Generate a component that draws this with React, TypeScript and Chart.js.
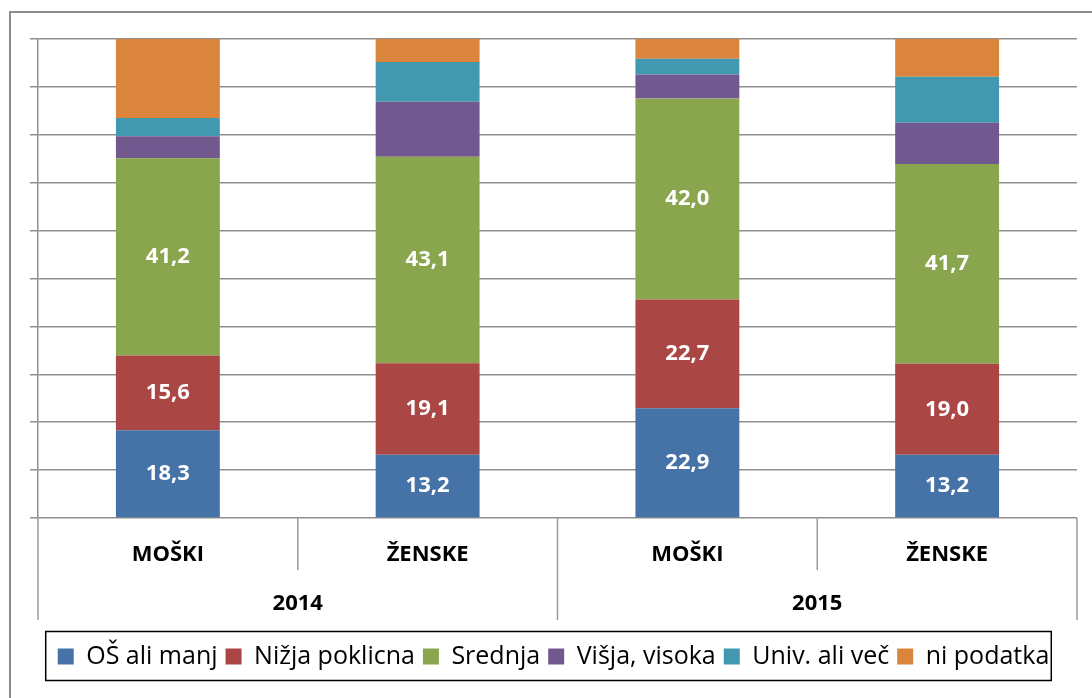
import { useEffect, useRef } from "react";
import { Chart, registerables } from "chart.js";

Chart.register(...registerables);

const categories = ["MOŠKI", "ŽENSKE", "MOŠKI", "ŽENSKE"];
const groups = ["2014", "2015"];
const seriesNames = ["OŠ ali manj", "Nižja poklicna", "Srednja", "Višja, visoka", "Univ. ali več", "ni podatka"];
const osAliManj = [18.3, 13.2, 22.9, 13.2];
const nizjaPoklicna = [15.6, 19.1, 22.7, 19.0];
const srednja = [41.2, 43.1, 42.0, 41.7];
const visjaVisoka = [4.6, 11.5, 5.0, 8.6];
const univAliVec = [3.8, 8.3, 3.3, 9.6];
const niPodatka = [16.5, 4.8, 4.1, 7.9];
const labelledSeries = [0, 1, 2];

const seriesValues = [osAliManj, nizjaPoklicna, srednja, visjaVisoka, univAliVec, niPodatka];
const seriesColors = ["#4572A7", "#AA4643", "#89A54E", "#71588F", "#4198AF", "#DB843D"];

const FONT = "'Open Sans', 'Noto Sans', sans-serif";

const decorPlugin = {
  id: "decor",
  beforeDraw(chart: any) {
    const ctx = chart.ctx;
    ctx.save();
    ctx.fillStyle = "#ffffff";
    ctx.fillRect(0, 0, chart.width, chart.height);
    ctx.strokeStyle = "#8c8c8c";
    ctx.lineWidth = 2;
    ctx.strokeRect(10, 12, chart.width + 20, chart.height + 20);
    ctx.restore();
  },
  afterDraw(chart: any) {
    const ctx = chart.ctx;
    const area = chart.chartArea;
    const xs = chart.scales.x;
    const n = categories.length;
    const perGroup = n / groups.length;
    const step = (area.right - area.left) / n;
    ctx.save();
    ctx.strokeStyle = "#9a9a9a";
    ctx.lineWidth = 1.5;
    for (let i = 0; i <= n; i++) {
      const bx = i < n ? xs.getPixelForValue(i) - step / 2 : xs.getPixelForValue(n - 1) + step / 2;
      const isGroup = i % perGroup === 0;
      ctx.beginPath();
      ctx.moveTo(bx, area.bottom);
      ctx.lineTo(bx, area.bottom + (isGroup ? 102 : 52));
      ctx.stroke();
    }
    ctx.fillStyle = "#000000";
    ctx.font = `bold 22px ${FONT}`;
    ctx.textAlign = "center";
    ctx.textBaseline = "middle";
    groups.forEach((g, gi) => {
      const l = xs.getPixelForValue(gi * perGroup) - step / 2;
      const r = xs.getPixelForValue((gi + 1) * perGroup - 1) + step / 2;
      ctx.fillText(g, (l + r) / 2, area.bottom + 86);
    });
    // legend border
    const hb = chart.legend && chart.legend.legendHitBoxes;
    if (hb && hb.length) {
      const first = hb[0];
      const last = hb[hb.length - 1];
      const cy = first.top + first.height / 2;
      ctx.strokeStyle = "#000000";
      ctx.lineWidth = 1.5;
      ctx.strokeRect(first.left - 12, cy - 25, last.left + last.width + 2 - (first.left - 12), 49);
    }
    ctx.restore();
  },
};

const valueLabelPlugin = {
  id: "valueLabels",
  afterDatasetsDraw(chart: any) {
    const ctx = chart.ctx;
    ctx.save();
    ctx.fillStyle = "#ffffff";
    ctx.font = `bold 22px ${FONT}`;
    ctx.textAlign = "center";
    ctx.textBaseline = "middle";
    labelledSeries.forEach((di) => {
      const meta = chart.getDatasetMeta(di);
      meta.data.forEach((el: any, i: number) => {
        const v = seriesValues[di][i];
        const cy = (el.y + el.base) / 2;
        ctx.fillText(v.toFixed(1).replace(".", ","), el.x, cy);
      });
    });
    ctx.restore();
  },
};

export default function App() {
  const ref = useRef<HTMLCanvasElement>(null);
  useEffect(() => {
    if (!ref.current) return;
    const chart = new Chart(ref.current, {
      type: "bar",
      data: {
        labels: categories,
        datasets: seriesNames.map((name, i) => ({
          label: name,
          data: seriesValues[i],
          backgroundColor: seriesColors[i],
          borderWidth: 0,
          barPercentage: 0.4,
          categoryPercentage: 1,
        })),
      },
      options: {
        responsive: false,
        animation: false,
        layout: { padding: { left: 30, right: 15, top: 39, bottom: 19 } },
        plugins: {
          tooltip: { enabled: false },
          legend: {
            display: true,
            position: "bottom",
            labels: {
              color: "#000000",
              font: { family: FONT, size: 25 },
              boxWidth: 16,
              boxHeight: 16,
              padding: 8,
            },
          },
        },
        scales: {
          x: {
            stacked: true,
            grid: { display: false },
            border: { display: false },
            ticks: {
              color: "#000000",
              font: { family: FONT, size: 22, weight: "bold" },
              padding: 16,
            },
            afterFit: (s: any) => {
              s.height = 118;
            },
          },
          y: {
            stacked: true,
            min: 0,
            max: 100,
            ticks: { display: false, stepSize: 10 },
            grid: { color: "#8f8f8f", lineWidth: 1.5, tickLength: 8, drawTicks: true },
            border: { display: true, color: "#8f8f8f", width: 1.5 },
          },
        },
      },
      plugins: [decorPlugin, valueLabelPlugin],
    });
    return () => chart.destroy();
  }, []);
  return (
    <div style={{ position: "absolute", left: 0, top: 0, width: 1092, height: 698 }}>
      <canvas ref={ref} width={1092} height={698} />
    </div>
  );
}
